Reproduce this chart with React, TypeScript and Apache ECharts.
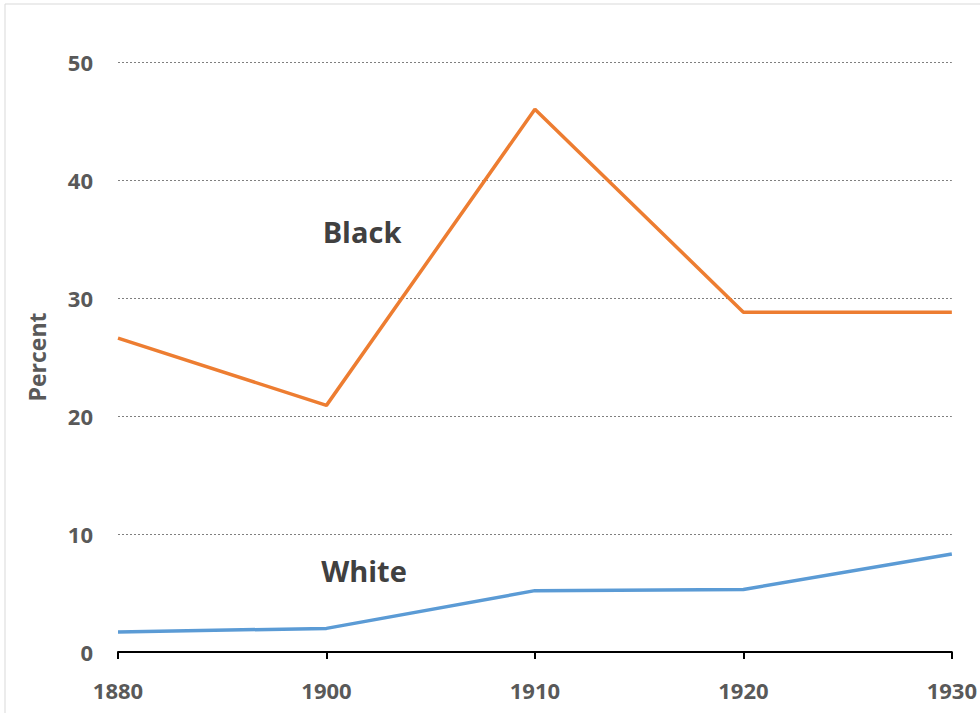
import React, { useEffect, useRef } from "react";
import * as echarts from "echarts";

const years = ["1880", "1900", "1910", "1920", "1930"];
const blackValues = [26.6, 20.9, 46.0, 28.8, 28.8];
const whiteValues = [1.7, 2.0, 5.2, 5.3, 8.3];
const yTicks = { min: 0, max: 50, interval: 10 };
const seriesLabels = ["Black", "White"];

export default function App() {
  const ref = useRef<HTMLDivElement>(null);
  useEffect(() => {
    if (!ref.current) return;
    const chart = echarts.init(ref.current, null, { renderer: "svg" });
    const font = "'Open Sans', sans-serif";
    chart.setOption({
      animation: false,
      backgroundColor: "#ffffff",
      grid: { left: 118, right: 25, top: 62, bottom: 61 },
      xAxis: {
        type: "category",
        data: years,
        boundaryGap: false,
        axisLine: { show: true, lineStyle: { color: "#000000", width: 2 } },
        axisTick: { show: true, inside: false, length: 7, lineStyle: { color: "#000000", width: 2 }, alignWithLabel: true },
        axisLabel: { color: "#595959", fontSize: 22, fontWeight: "bold", fontFamily: font, margin: 27 },
        splitLine: { show: false },
      },
      yAxis: {
        type: "value",
        min: yTicks.min,
        max: yTicks.max,
        interval: yTicks.interval,
        name: "Percent",
        nameLocation: "middle",
        nameGap: 70,
        nameRotate: 90,
        nameTextStyle: { color: "#595959", fontSize: 23, fontWeight: "bold", fontFamily: font },
        axisLine: { show: false },
        axisTick: { show: false },
        axisLabel: { color: "#595959", fontSize: 22, fontWeight: "bold", fontFamily: font, margin: 25 },
        splitLine: {
          show: true,
          showMinLine: false,
          lineStyle: { color: "#7f7f7f", type: [2, 2], width: 1 },
        },
      },
      series: [
        {
          name: seriesLabels[0],
          type: "line",
          data: blackValues,
          symbol: "none",
          lineStyle: { color: "#ED7D31", width: 3.5 },
          itemStyle: { color: "#ED7D31" },
        },
        {
          name: seriesLabels[1],
          type: "line",
          data: whiteValues,
          symbol: "none",
          lineStyle: { color: "#5B9BD5", width: 3.5 },
          itemStyle: { color: "#5B9BD5" },
        },
      ],
      graphic: [
        {
          type: "rect",
          shape: { x: 5, y: 4, width: 1000, height: 740 },
          style: { fill: "none", stroke: "#d9d9d9", lineWidth: 1 },
          silent: true,
        },
        {
          type: "text",
          x: 362,
          y: 231,
          style: {
            text: seriesLabels[0],
            fill: "#404040",
            font: `bold 29px ${font}`,
            textAlign: "center",
            textVerticalAlign: "middle",
          },
        },
        {
          type: "text",
          x: 364,
          y: 570,
          style: {
            text: seriesLabels[1],
            fill: "#404040",
            font: `bold 29px ${font}`,
            textAlign: "center",
            textVerticalAlign: "middle",
          },
        },
      ],
    });
    return () => chart.dispose();
  }, []);
  return (
    <div
      ref={ref}
      style={{ position: "absolute", left: 0, top: 0, width: 980, height: 713 }}
    />
  );
}
